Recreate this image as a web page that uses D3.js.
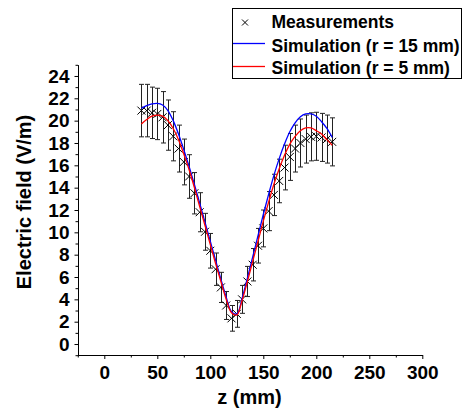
<!DOCTYPE html>
<html>
<head>
<meta charset="utf-8">
<script src="https://cdn.jsdelivr.net/npm/d3@7"></script>
<style>
  html, body { margin: 0; padding: 0; background: #fff; }
  svg { display: block; }
  text { font-family: "Liberation Sans", Arial, sans-serif; font-weight: bold; fill: #000; }
</style>
</head>
<body>
<svg id="chart" width="463" height="410"></svg>
<script>
// Probe positions along the axis (mm)
const zPos = [35, 40, 45, 50, 55, 60, 65, 70, 75, 80, 85, 90, 95, 100, 105, 110, 115, 120,
              125, 130, 135, 140, 145, 150, 155, 160, 165, 170, 175, 180, 185, 190, 195, 200,
              205, 210, 215];

// Measured field (V/m) and its uncertainty
const measured = [20.9, 20.9, 20.7, 20.6, 20.3, 19.6, 18.6, 17.5, 16.3, 15.0, 13.5, 11.8, 10.05,
                  8.35, 6.7, 5.07, 3.45, 2.3, 2.7, 4.0, 5.6, 7.1, 8.8, 10.35, 11.9, 13.35, 14.6,
                  15.8, 16.75, 17.5, 18.0, 18.35, 18.55, 18.6, 18.5, 18.35, 18.1];
const measuredErr = [2.35, 2.35, 2.3, 2.3, 2.3, 2.25, 2.2, 2.1, 2.05, 1.95, 1.85, 1.75, 1.65,
                     1.55, 1.45, 1.35, 1.25, 1.15, 1.2, 1.25, 1.35, 1.45, 1.55, 1.65, 1.75, 1.85,
                     1.95, 2.0, 2.1, 2.1, 2.15, 2.15, 2.15, 2.15, 2.15, 2.15, 2.15];

// Simulated field (V/m) for the two probe radii
const simR15 = [21.1, 21.35, 21.5, 21.55, 21.4, 20.9, 20.0, 18.8, 17.4, 15.9, 14.3, 12.6, 10.9,
                9.2, 7.5, 5.8, 4.2, 2.9, 2.7, 4.1, 5.9, 7.8, 9.7, 11.6, 13.4, 15.1, 16.6, 17.9,
                19.0, 19.8, 20.35, 20.6, 20.6, 20.4, 19.9, 19.3, 18.5];
const simR5 = [19.7, 20.1, 20.4, 20.5, 20.4, 20.0, 19.3, 18.3, 17.0, 15.6, 14.0, 12.3, 10.6,
               8.9, 7.2, 5.6, 4.0, 2.8, 2.6, 3.9, 5.6, 7.4, 9.2, 11.0, 12.7, 14.3, 15.7, 16.9,
               17.9, 18.6, 19.1, 19.35, 19.35, 19.1, 18.8, 18.3, 17.8];

// Axis ticks
const xMajorTicks = [0, 50, 100, 150, 200, 250, 300];
const xMinorTicks = [-25, 25, 75, 125, 175, 225, 275];
const yMajorTicks = [0, 2, 4, 6, 8, 10, 12, 14, 16, 18, 20, 22, 24];
const yMinorTicks = [-1, 1, 3, 5, 7, 9, 11, 13, 15, 17, 19, 21, 23, 25];

const legendLabels = ["Measurements", "Simulation (r = 15 mm)", "Simulation (r = 5 mm)"];

const svg = d3.select("#chart");

const x = d3.scaleLinear().domain([-25, 300]).range([77.8, 422.3]);
const y = d3.scaleLinear().domain([-1, 25]).range([355.2, 64.8]);
const axisX = 78, axisY = 355;

// Axes: minor ticks first, then labelled major ticks
function styleAxis(g) {
  g.selectAll("path.domain").attr("stroke", "#000").attr("stroke-width", 1);
  g.selectAll(".tick line").attr("stroke", "#000").attr("stroke-width", 1);
}

svg.append("g")
  .attr("transform", `translate(0,${axisY})`)
  .call(d3.axisBottom(x).tickValues(xMinorTicks).tickSize(2.5).tickSizeOuter(0).tickFormat(""))
  .call(styleAxis);
const gx = svg.append("g")
  .attr("transform", `translate(0,${axisY})`)
  .call(d3.axisBottom(x).tickValues(xMajorTicks).tickSize(4).tickSizeOuter(0).tickPadding(7))
  .call(styleAxis);
gx.selectAll(".tick text").attr("font-size", 19).attr("font-family", null).attr("font-weight", "bold");

svg.append("g")
  .attr("transform", `translate(${axisX},0)`)
  .call(d3.axisLeft(y).tickValues(yMinorTicks).tickSize(2.5).tickSizeOuter(0).tickFormat(""))
  .call(styleAxis);
const gy = svg.append("g")
  .attr("transform", `translate(${axisX},0)`)
  .call(d3.axisLeft(y).tickValues(yMajorTicks).tickSize(3.5).tickSizeOuter(0).tickPadding(5))
  .call(styleAxis);
gy.selectAll(".tick text").attr("font-size", 19).attr("font-family", null).attr("font-weight", "bold");
svg.selectAll("g .domain").attr("stroke", "#000");

// Axis titles
svg.append("text")
  .attr("x", 249.5).attr("y", 404)
  .attr("text-anchor", "middle").attr("font-size", 20)
  .text("z (mm)");
svg.append("text")
  .attr("transform", "translate(31,202) rotate(-90)")
  .attr("text-anchor", "middle").attr("font-size", 20)
  .text("Electric field (V/m)");

// Measurements with error bars
const meas = zPos.map((z, i) => ({ z, v: measured[i], e: measuredErr[i] }));
const capW = 2.5, cross = 4;
const eb = svg.append("g").attr("stroke", "#222").attr("stroke-width", 1).attr("fill", "none");
eb.selectAll("path.err").data(meas).join("path")
  .attr("class", "err")
  .attr("d", d => {
    const cx = Math.round(x(d.z)) + 0.5, t = y(d.v + d.e), b = y(d.v - d.e);
    return `M${cx},${t}V${b}M${cx - capW},${t}H${cx + capW}M${cx - capW},${b}H${cx + capW}`;
  });
eb.selectAll("path.mk").data(meas).join("path")
  .attr("class", "mk")
  .attr("stroke", "#000")
  .attr("d", d => {
    const cx = x(d.z), cy = y(d.v);
    return `M${cx - cross},${cy - cross}L${cx + cross},${cy + cross}M${cx - cross},${cy + cross}L${cx + cross},${cy - cross}`;
  });

// Simulation curves
const line = d3.line().curve(d3.curveCatmullRom.alpha(0.5)).x((d, i) => x(zPos[i])).y(d => y(d));
svg.append("path").datum(simR15).attr("d", line)
  .attr("fill", "none").attr("stroke", "#0000ff").attr("stroke-width", 1.3);
svg.append("path").datum(simR5).attr("d", line)
  .attr("fill", "none").attr("stroke", "#ff0000").attr("stroke-width", 1.3);

// Legend
const lg = svg.append("g");
lg.append("rect").attr("x", 232.5).attr("y", 8.5).attr("width", 229).attr("height", 70)
  .attr("fill", "#fff").attr("stroke", "#000").attr("stroke-width", 1);
const rowsY = [22.5, 43.5, 66.5];
lg.append("path")
  .attr("d", `M${245 - 3},${rowsY[0] - 3}L${245 + 3},${rowsY[0] + 3}M${245 - 3},${rowsY[0] + 3}L${245 + 3},${rowsY[0] - 3}`)
  .attr("stroke", "#000").attr("stroke-width", 1);
lg.append("line").attr("x1", 233).attr("x2", 265).attr("y1", rowsY[1]).attr("y2", rowsY[1])
  .attr("stroke", "#0000ff").attr("stroke-width", 1.3);
lg.append("line").attr("x1", 233).attr("x2", 265).attr("y1", rowsY[2]).attr("y2", rowsY[2])
  .attr("stroke", "#ff0000").attr("stroke-width", 1.3);
lg.selectAll("text").data(legendLabels).join("text")
  .attr("x", 271.5)
  .attr("y", (d, i) => [28.3, 51.5, 74.3][i])
  .attr("font-size", 17.5)
  .text(d => d);
</script>
</body>
</html>
